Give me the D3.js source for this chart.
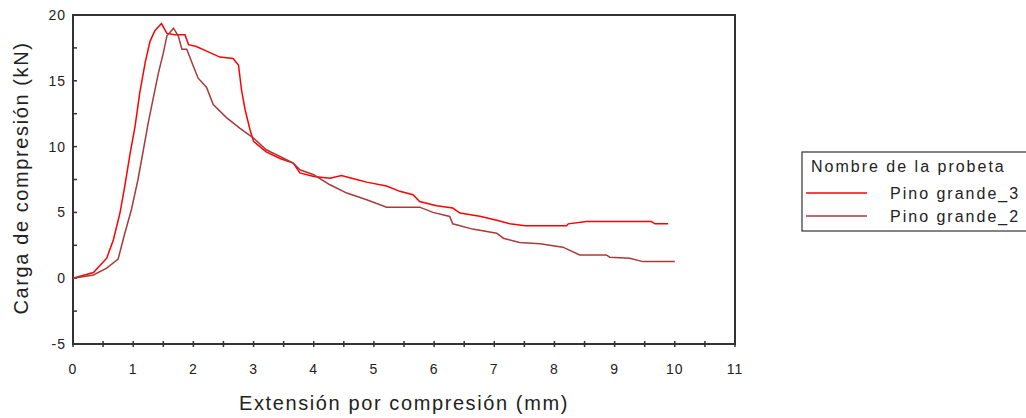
<!DOCTYPE html>
<html>
<head>
<meta charset="utf-8">
<script src="https://cdn.jsdelivr.net/npm/d3@7"></script>
<style>
  body { margin: 0; background: #fff; }
  svg { font-family: "Liberation Sans", Arial, sans-serif; }
</style>
</head>
<body>
<div class="chart"></div>
<script>
// curves (mm, kN)
var x3 = [0, 0.34, 0.56, 0.67, 0.78, 0.86, 0.95, 1.03, 1.11, 1.2, 1.28, 1.36, 1.47, 1.56, 1.69, 1.86, 1.92, 2.05, 2.22, 2.44, 2.66, 2.75, 2.8, 2.86, 2.94, 3.0, 3.21, 3.44, 3.66, 3.77, 4.0, 4.27, 4.46, 4.71, 4.88, 5.21, 5.43, 5.65, 5.76, 6.04, 6.31, 6.43, 6.76, 7.04, 7.26, 7.51, 8.2, 8.23, 8.53, 9.61, 9.67, 9.89];
var y3 = [0, 0.43, 1.52, 2.9, 4.95, 6.97, 9.5, 11.5, 14.1, 16.4, 18.0, 18.8, 19.35, 18.6, 18.5, 18.5, 17.75, 17.6, 17.25, 16.8, 16.7, 16.2, 14.3, 12.8, 11.3, 10.4, 9.6, 9.1, 8.75, 8.0, 7.73, 7.6, 7.8, 7.5, 7.3, 7.0, 6.6, 6.34, 5.83, 5.5, 5.33, 4.95, 4.7, 4.4, 4.13, 3.98, 3.98, 4.13, 4.3, 4.3, 4.13, 4.13];

var x2 = [0, 0.34, 0.56, 0.75, 0.86, 0.97, 1.08, 1.17, 1.25, 1.33, 1.42, 1.5, 1.56, 1.67, 1.75, 1.81, 1.89, 2.0, 2.08, 2.22, 2.33, 2.55, 2.77, 3.0, 3.21, 3.44, 3.66, 3.77, 4.0, 4.27, 4.55, 4.88, 5.21, 5.76, 5.98, 6.26, 6.31, 6.64, 7.04, 7.15, 7.42, 7.76, 8.14, 8.42, 8.86, 8.92, 9.25, 9.47, 10.0];
var y2 = [0, 0.25, 0.76, 1.45, 3.4, 5.2, 7.5, 9.76, 11.8, 13.6, 15.6, 17.1, 18.4, 19.0, 18.4, 17.4, 17.4, 16.1, 15.2, 14.5, 13.2, 12.2, 11.4, 10.65, 9.76, 9.25, 8.75, 8.24, 7.86, 7.1, 6.47, 5.96, 5.4, 5.4, 5.0, 4.69, 4.13, 3.73, 3.42, 3.04, 2.71, 2.61, 2.36, 1.77, 1.77, 1.6, 1.52, 1.26, 1.26];

var seriesNames = ["Pino grande_3", "Pino grande_2"];
var seriesColors = ["#ff0000", "#a83a3a"];
var xTicks = [0, 1, 2, 3, 4, 5, 6, 7, 8, 9, 10, 11];
var yTicks = [-5, 0, 5, 10, 15, 20];

var width = 1026, height = 418;
var pLeft = 73, pRight = 735, pTop = 15, pBottom = 344;

var svg = d3.select(".chart").append("svg")
    .attr("width", width)
    .attr("height", height);

var x = d3.scaleLinear().domain([0, 11]).range([pLeft, pRight]);
var y = d3.scaleLinear().domain([-5, 20]).range([pBottom, pTop]);

// frame
svg.append("rect")
    .attr("x", pLeft).attr("y", pTop)
    .attr("width", pRight - pLeft).attr("height", pBottom - pTop)
    .attr("fill", "none").attr("stroke", "#333").attr("stroke-width", 2);

// minor/major ticks
var xt = d3.range(0, 11.01, 0.5);
svg.selectAll(".xt").data(xt).enter().append("line")
    .attr("x1", function(d) { return x(d); }).attr("x2", function(d) { return x(d); })
    .attr("y1", pBottom - 3).attr("y2", pBottom + 3)
    .attr("stroke", "#333").attr("stroke-width", 1.5);

var yt = d3.range(-5, 20.01, 2.5);
svg.selectAll(".yt").data(yt).enter().append("line")
    .attr("x1", pLeft).attr("x2", pLeft + 4)
    .attr("y1", function(d) { return y(d); }).attr("y2", function(d) { return y(d); })
    .attr("stroke", "#333").attr("stroke-width", 1.5);

svg.selectAll(".xl").data(xTicks).enter().append("text")
    .attr("x", function(d) { return x(d); })
    .attr("y", 374)
    .attr("text-anchor", "middle")
    .attr("font-size", 14)
    .attr("letter-spacing", "1px")
    .attr("fill", "#222")
    .text(function(d) { return d; });

svg.selectAll(".yl").data(yTicks).enter().append("text")
    .attr("x", 66)
    .attr("y", function(d) { return y(d) + 5; })
    .attr("text-anchor", "end")
    .attr("font-size", 14)
    .attr("letter-spacing", "1px")
    .attr("fill", "#222")
    .text(function(d) { return d; });

// axis titles
svg.append("text")
    .attr("x", (pLeft + pRight) / 2)
    .attr("y", 410)
    .attr("text-anchor", "middle")
    .attr("font-size", 20)
    .attr("letter-spacing", "1.6px")
    .attr("fill", "#222")
    .text("Extensión por compresión (mm)");

svg.append("text")
    .attr("transform", "translate(28,178) rotate(-90)")
    .attr("text-anchor", "middle")
    .attr("font-size", 20)
    .attr("letter-spacing", "1.6px")
    .attr("fill", "#222")
    .text("Carga de compresión (kN)");

// curves
var line = d3.line()
    .x(function(d) { return x(d[0]); })
    .y(function(d) { return y(d[1]); });

var data = [d3.zip(x3, y3), d3.zip(x2, y2)];
svg.selectAll(".curve").data(data).enter().append("path")
    .attr("d", line)
    .attr("fill", "none")
    .attr("stroke", function(d, i) { return seriesColors[i]; })
    .attr("stroke-width", 1.5);

// legend
var lg = svg.append("g");
lg.append("rect")
    .attr("x", 802).attr("y", 152)
    .attr("width", 260).attr("height", 79)
    .attr("fill", "#fff").attr("stroke", "#333").attr("stroke-width", 1.2);
lg.append("text")
    .attr("x", 811).attr("y", 172)
    .attr("font-size", 16)
    .attr("letter-spacing", "2px")
    .attr("fill", "#222")
    .text("Nombre de la probeta");
seriesNames.forEach(function(name, i) {
  var yy = 193 + i * 23;
  lg.append("line")
      .attr("x1", 806).attr("x2", 867)
      .attr("y1", yy).attr("y2", yy)
      .attr("stroke", seriesColors[i]).attr("stroke-width", 1.5);
  lg.append("text")
      .attr("x", 890).attr("y", yy + 6)
      .attr("font-size", 16)
      .attr("letter-spacing", "2px")
      .attr("fill", "#222")
      .text(name);
});
</script>
</body>
</html>
